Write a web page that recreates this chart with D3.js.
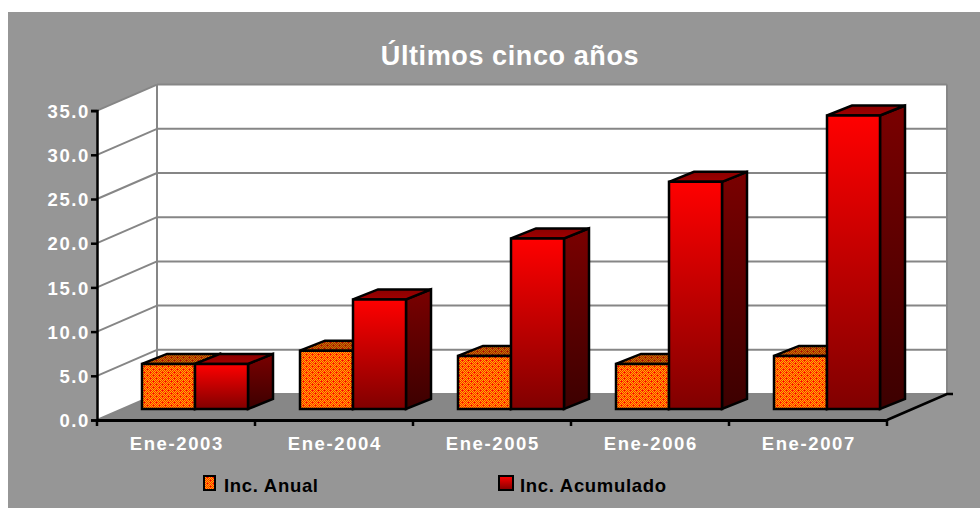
<!DOCTYPE html>
<html><head><meta charset="utf-8">
<script src="https://cdn.jsdelivr.net/npm/d3@7"></script>
<style>html,body{margin:0;padding:0;background:#fff;}svg{display:block;}</style>
</head><body>
<svg id="c" width="980" height="508"></svg>
<script>
const categories = ["Ene-2003","Ene-2004","Ene-2005","Ene-2006","Ene-2007"];
const anual = [5.1, 6.6, 6.0, 5.1, 6.0];
const acumulado = [5.1, 12.4, 19.3, 25.7, 33.2];
const yTicks = [0,5,10,15,20,25,30,35];
const seriesNames = ["Inc. Anual","Inc. Acumulado"];
const title = "Últimos cinco años";

const svg = d3.select("#c");
const defs = svg.append("defs");
const FONT = "'Liberation Sans', Arial, sans-serif";

// geometry
const X0 = 97, X1 = 887;
const DX = 60, DY = -26;          // wall depth
const BX = 19, BY = -11;          // bar front offset
const bx = 25, by = -10;          // bar depth
const BW = 53;

const x = d3.scaleBand().domain(categories).range([X0, X1]).padding(0);
const y = d3.scaleLinear().domain([0, 35]).range([420, 110.6]);

// gradients
function lg(id, stops){
  const g = defs.append("linearGradient").attr("id", id).attr("x1",0).attr("y1",0).attr("x2",0).attr("y2",1);
  stops.forEach(([o,c]) => g.append("stop").attr("offset", o).attr("stop-color", c));
}
lg("accFront", [[0,"#ff0000"],[1,"#800000"]]);
lg("accSide", [[0,"#7a0000"],[1,"#3c0000"]]);
lg("accTop", [[0,"#8a0000"],[1,"#a00000"]]);

function pattern(id, c1, c2, dot){
  const p = defs.append("pattern").attr("id", id).attr("patternUnits","userSpaceOnUse")
    .attr("width", 6).attr("height", 6);
  p.append("rect").attr("width",6).attr("height",6).attr("fill", c1);
  for (let i=0;i<6;i++) for (let j=0;j<6;j++) if ((i+j)%2===1)
    p.append("rect").attr("x",i).attr("y",j).attr("width",1).attr("height",1).attr("fill",c2);
  [[0,0],[3,3]].forEach(([a,b]) =>
    p.append("rect").attr("x",a).attr("y",b).attr("width",1).attr("height",1).attr("fill",dot));
}
pattern("anFront", "#ffb400", "#ff2800", "#ff0000");
pattern("anTop", "#d07000", "#a03000", "#c00000");

// background
svg.append("rect").attr("x",8).attr("y",12).attr("width",972).attr("height",496).attr("fill","#969696");

// title
svg.append("text").attr("x", 510).attr("y", 65).attr("text-anchor","middle")
  .attr("font-family", FONT).attr("font-weight","bold").attr("font-size", 27)
  .attr("letter-spacing", 0.6).attr("fill","#fff").text(title);

// walls
const yTop = y(35), yBot = y(0);
svg.append("polygon").attr("points", [[X0,yTop],[X0+DX,yTop+DY],[X0+DX,yBot+DY],[X0,yBot]].join(" "))
  .attr("fill","#fff");
svg.append("rect").attr("x", X0+DX).attr("y", yTop+DY).attr("width", X1-X0).attr("height", yBot-yTop)
  .attr("fill","#fff");
// floor
svg.append("polygon").attr("points", [[X0,yBot],[X1,yBot],[X1+DX,yBot+DY],[X0+DX,yBot+DY]].join(" "))
  .attr("fill","#878787");

// gridlines
const grid = svg.append("g").attr("stroke","#868686").attr("stroke-width",2).attr("fill","none");
yTicks.forEach(t => {
  const yy = y(t);
  grid.append("line").attr("x1",X0).attr("y1",yy).attr("x2",X0+DX).attr("y2",yy+DY);
  grid.append("line").attr("x1",X0+DX).attr("y1",yy+DY).attr("x2",X1+DX).attr("y2",yy+DY);
});
grid.append("line").attr("x1",X0+DX).attr("y1",yTop+DY).attr("x2",X0+DX).attr("y2",yBot+DY);
grid.append("line").attr("x1",X1+DX).attr("y1",yTop+DY).attr("x2",X1+DX).attr("y2",yBot+DY);

// floor edges
svg.append("polyline").attr("points", [[X1,yBot],[X1+DX,yBot+DY],[X1+DX+6,yBot+DY]].join(" "))
  .attr("fill","none").attr("stroke","#000").attr("stroke-width",2.5);

// bars
function bar(g, xl, xr, yt, yb, front, side, top){
  const s = {stroke:"#000","stroke-width":2.5,"stroke-linejoin":"miter"};
  const add = (pts, fill) => {
    const p = g.append("polygon").attr("points", pts.join(" ")).attr("fill", fill);
    Object.entries(s).forEach(([k,v]) => p.attr(k,v));
  };
  add([[xr,yt],[xr+bx,yt+by],[xr+bx,yb+by],[xr,yb]], side);
  add([[xl,yt],[xr,yt],[xr+bx,yt+by],[xl+bx,yt+by]], top);
  add([[xl,yt],[xr,yt],[xr,yb],[xl,yb]], front);
}
const bars = svg.append("g");
categories.forEach((c, i) => {
  const cx = x(c) + x.bandwidth()/2 + BX;
  const yb = y(0) + BY;
  bar(bars, cx - BW, cx, y(anual[i]) + BY, yb, "url(#anFront)", "url(#anFront)", "url(#anTop)");
  bar(bars, cx, cx + BW, y(acumulado[i]) + BY, yb, "url(#accFront)", "url(#accSide)", "url(#accTop)");
});

// y axis
const yAxis = d3.axisLeft(y).tickValues(yTicks).tickSize(6).tickFormat(d3.format(".1f"));
const ya = svg.append("g").attr("transform", `translate(${X0},0)`).call(yAxis);
ya.select(".domain").attr("stroke","#000").attr("stroke-width",2.5);
ya.selectAll(".tick line").attr("stroke","#000").attr("stroke-width",2.5);
ya.selectAll(".tick text").attr("fill","#fff").attr("font-family",FONT).attr("font-weight","bold")
  .attr("font-size",18.5).attr("letter-spacing",1.6).attr("x",-7).attr("dy","0.36em");

// x axis
const xAxis = d3.axisBottom(x).tickSize(0).tickFormat(d => d);
const xa = svg.append("g").attr("transform", `translate(0,${yBot})`).call(xAxis);
xa.select(".domain").attr("stroke","#000").attr("stroke-width",3);
xa.selectAll(".tick text").attr("fill","#fff").attr("font-family",FONT).attr("font-weight","bold")
  .attr("font-size",18.5).attr("letter-spacing",1.6).attr("y",30).attr("dy",0).attr("dx",0.8);
const bounds = categories.map(c => x(c)).concat([X1]);
bounds.forEach(b => svg.append("line").attr("x1",b).attr("x2",b).attr("y1",yBot).attr("y2",yBot+6)
  .attr("stroke","#000").attr("stroke-width",2.5));

// legend
const lgd = svg.append("g").attr("font-family",FONT).attr("font-weight","bold").attr("font-size",18.5);
lgd.append("rect").attr("x",204).attr("y",476).attr("width",11).attr("height",14)
  .attr("fill","url(#anFront)").attr("stroke","#000").attr("stroke-width",2);
lgd.append("text").attr("x",224).attr("y",492).attr("letter-spacing",0.7).attr("fill","#000").text(seriesNames[0]);
lgd.append("rect").attr("x",499).attr("y",476).attr("width",14).attr("height",14)
  .attr("fill","url(#accFront)").attr("stroke","#000").attr("stroke-width",2);
lgd.append("text").attr("x",520).attr("y",492).attr("letter-spacing",0.7).attr("fill","#000").text(seriesNames[1]);
</script>
</body></html>
